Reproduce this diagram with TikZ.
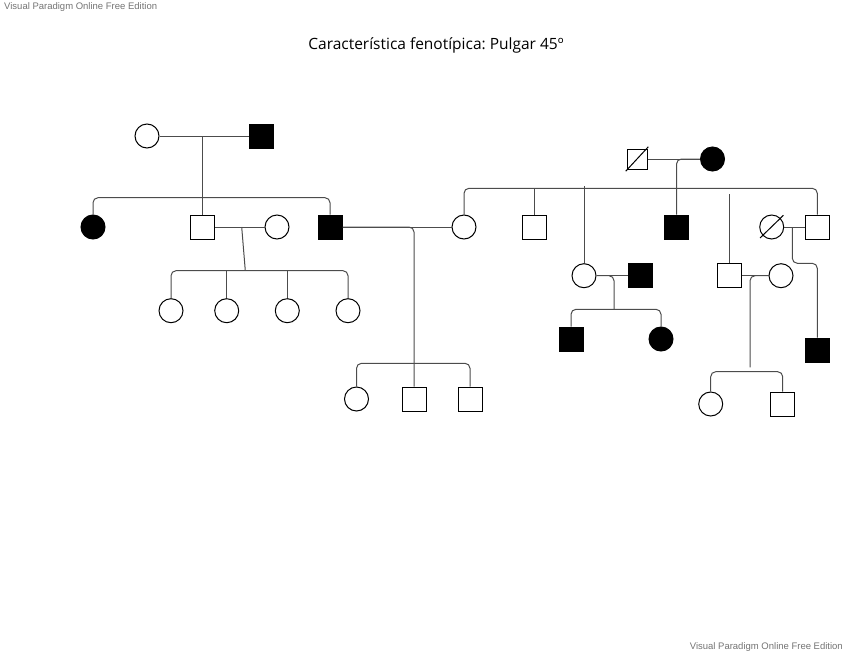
\documentclass[tikz,border=0pt]{standalone}
\usepackage{fontspec}
\usetikzlibrary{positioning}
\newfontfamily\titlefont{Open Sans}
\newfontfamily\markfont{Liberation Sans}
\frenchspacing

\begin{document}
\begin{tikzpicture}[
      x=1pt, y=-1pt,
      male/.style={draw, line width=1pt, minimum size=24pt, inner sep=0pt},
      female/.style={male, circle},
      aff/.style={fill=black},
      link/.style={draw=black!70, line width=1pt, rounded corners=5pt},
      wmark/.style={font=\markfont\fontsize{9.5}{11}\selectfont, text=black!55, inner sep=1pt},
    ]
      \useasboundingbox (0,0) rectangle (848,656);
      \node[wmark, anchor=west] (wmtop) at (3,7) {Visual Paradigm Online Free Edition};
      \node[wmark, anchor=east] (wmbot) at (844,647) {Visual Paradigm Online Free Edition};
      \node[font=\titlefont\fontsize{15.5}{18}\selectfont] (title) at (436,45) {Característica fenotípica: Pulgar 45º};

      % generation I
      \node[female] (gIa) at (147,136) {};
      \node[male, aff] (gIb) at (261,136) {};
      \node[male, minimum size=20pt] (gIc) at (637,159) {};
      \node[female, aff] (gId) at (712.5,159) {};

      % generation II
      \node[female, aff] (iiA) at (93,227) {};
      \node[male] (iiB) at (202.7,227) {};
      \node[female] (iiBw) at (277,227) {};
      \node[male, aff] (iiC) at (330,227) {};
      \node[female] (iiCw) at (464,227) {};
      \node[male] (iiD) at (534,227) {};
      \node[male, aff] (iiE) at (676.5,227) {};
      \node[female] (iiFw) at (771.7,227) {};
      \node[male] (iiF) at (817.3,227) {};
      \node[female] (iiG) at (584,275.7) {};
      \node[male, aff] (iiGh) at (640.7,275.7) {};
      \node[male] (iiH) at (729,275.7) {};
      \node[female] (iiHw) at (781,275.7) {};

      % generation III
      \node[female] (iiia) at (171,310.7) {};
      \node[female, right=30.7pt of iiia] (iiib) {};
      \node[female, right=35.6pt of iiib] (iiic) {};
      \node[female, right=35.7pt of iiic] (iiid) {};
      \node[female] (iiie) at (356.5,399) {};
      \node[male, right=32.5pt of iiie] (iiif) {};
      \node[male, right=31pt of iiif] (iiig) {};
      \node[male, aff] (iiih) at (571,339) {};
      \node[female, aff, right=65pt of iiih] (iiii) {};
      \node[female] (iiij) at (710.7,404) {};
      \node[male, right=47pt of iiij] (iiik) {};
      \node[male, aff] (iiil) at (817.3,350) {};

      % left family
      \coordinate (mI) at (202.7,136);
      \coordinate (sI) at (202.7,197.7);
      \draw[link] (gIa) -- (gIb);
      \draw[link] (mI) -- (iiB.north);
      \draw[link] (iiA.north) |- (sI) -| (iiC.north);

      \coordinate (mB) at (241.7,227);
      \coordinate (sB) at (245.3,270.7);
      \draw[link] (iiB) -- (iiBw);
      \draw[link] (mB) -- (sB);
      \draw[link] (iiia.north) |- (sB) -| (iiid.north);
      \draw[link] (iiib.north) -- (iiib.north |- sB);
      \draw[link] (iiic.north) -- (iiic.north |- sB);

      \coordinate (sC) at (413,363.3);
      \draw[link] (iiC) -- (iiCw);
      \draw[link] (iiC.east) -| (iiif.north);
      \draw[link] (iiie.north) |- (sC) -| (iiig.north);

      % right family
      \coordinate (sII) at (676.5,188.3);
      \coordinate (tG) at (584,186);
      \coordinate (tH) at (729,194);
      \draw[link] (gIc) -- (gId);
      \draw[link] (gId.west) -| (iiE.north);
      \draw[link] (iiCw.north) |- (sII) -| (iiF.north);
      \draw[link] (iiD.north) -- (iiD.north |- sII);
      \draw[link] (tG) -- (iiG.north);
      \draw[link] (tH) -- (iiH.north);

      \coordinate (sG) at (614,309.3);
      \draw[link] (iiG) -- (iiGh);
      \draw[link] (iiG.east) -| (sG);
      \draw[link] (iiih.north) |- (sG) -| (iiii.north);

      \coordinate (dH) at (750,367.3);
      \coordinate (sH) at (750,371.7);
      \draw[link] (iiH) -- (iiHw);
      \draw[link] (iiHw.west) -| (dH);
      \draw[link] (iiij.north) |- (sH) -| (iiik.north);

      \coordinate (mF) at (792.3,227);
      \draw[link] (iiFw) -- (iiF);
      \draw[link] (mF) -- ++(0,36.3) -| (iiil.north);

      % deceased
      \draw[line width=1pt] ([shift={(-11.3,12.2)}]gIc.center) -- ([shift={(11.3,-12.2)}]gIc.center);
      \draw[line width=1pt] ([shift={(-11.7,11)}]iiFw.center) -- ([shift={(11.7,-11.7)}]iiFw.center);
    \end{tikzpicture}
\end{document}
